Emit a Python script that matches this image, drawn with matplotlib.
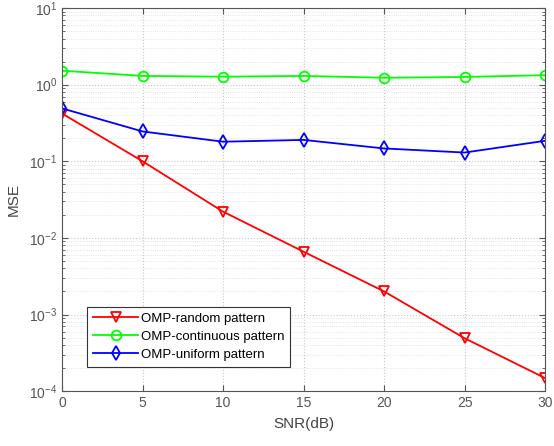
import matplotlib
matplotlib.use("Agg")
import matplotlib.pyplot as plt
from matplotlib.ticker import LogLocator, NullFormatter

plt.rcParams['font.family'] = ['Liberation Sans', 'DejaVu Sans']

snr = [0, 5, 10, 15, 20, 25, 30]
mse_random = [0.42, 0.10, 0.022, 0.0066, 0.0020, 0.00049, 0.000148]
mse_continuous = [1.52, 1.30, 1.27, 1.30, 1.23, 1.26, 1.33]
mse_uniform = [0.49, 0.245, 0.18, 0.19, 0.147, 0.13, 0.185]
labels = ['OMP-random pattern', 'OMP-continuous pattern', 'OMP-uniform pattern']

fig = plt.figure(figsize=(5.54, 4.46), dpi=100)
ax = fig.add_axes([0.112, 0.123, 0.872, 0.859])

ax.semilogy(snr, mse_random, '-v', color='#ff0000', lw=1.3, ms=7, mfc='none', mew=1.3, label=labels[0])
ax.semilogy(snr, mse_continuous, '-o', color='#00ff00', lw=1.3, ms=7, mfc='none', mew=1.3, label=labels[1])
ax.semilogy(snr, mse_uniform, '-d', color='#0000ff', lw=1.3, ms=7, mfc='none', mew=1.3, label=labels[2])

ax.set_xlim(0, 30)
ax.set_ylim(1e-4, 10)
ax.set_xticks(snr)
ax.yaxis.set_major_locator(LogLocator(base=10, numticks=10))
ax.yaxis.set_minor_locator(LogLocator(base=10, subs=range(2, 10), numticks=10))
ax.yaxis.set_minor_formatter(NullFormatter())

ax.grid(True, which='major', ls=':', color='#c8c8c8', lw=0.8)
ax.grid(True, which='minor', axis='y', ls=':', color='#dcdcdc', lw=0.6)

ax.tick_params(which='both', direction='in', top=True, right=True, colors='#555555', labelsize=10)
ax.tick_params(which='major', length=4)
ax.tick_params(which='minor', length=2)
for s in ax.spines.values():
    s.set_color('#555555')
    s.set_linewidth(0.8)

ax.set_xlabel('SNR(dB)', fontsize=11, color='#444444', labelpad=5)
ax.set_ylabel('MSE', fontsize=11, color='#444444', labelpad=6)

leg = ax.legend(loc='lower left', bbox_to_anchor=(0.052, 0.063), borderaxespad=0,
                fontsize=9.5, fancybox=False, edgecolor='#333333', framealpha=1,
                handlelength=3.4, handletextpad=0.2, borderpad=0.45, labelspacing=0.45)
leg.get_frame().set_linewidth(0.8)

fig.savefig('out.png', dpi=100)
